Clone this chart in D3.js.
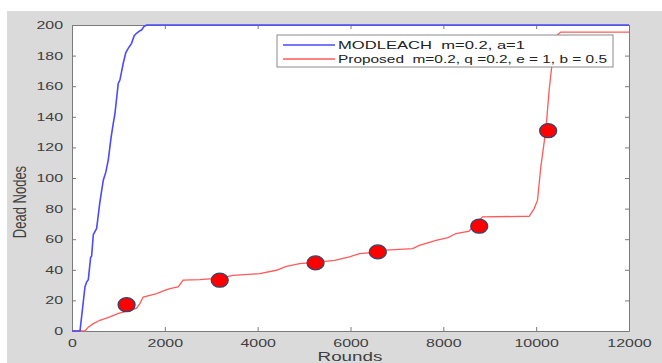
<!DOCTYPE html>
<html>
<head>
<meta charset="utf-8">
<script src="https://cdn.jsdelivr.net/npm/d3@7"></script>
<style>
  html, body { margin: 0; padding: 0; background: #fff; }
  text { font-family: "Liberation Sans", Arial, sans-serif; }
</style>
</head>
<body>
<svg id="chart"></svg>
<script>
// data
var xTicks = [0, 2000, 4000, 6000, 8000, 10000, 12000];
var yTicks = [0, 20, 40, 60, 80, 100, 120, 140, 160, 180, 200];

var modleachX = [0, 172, 280, 315, 351, 401, 423, 459, 530, 600, 674, 730, 781, 840, 889, 925, 996, 1032, 1104, 1160, 1211, 1283, 1340, 1391, 1450, 1498, 1550, 1606, 12000];
var modleachY = [0, 0, 29, 32, 33.5, 48, 49, 63, 67, 84, 98.6, 104, 111.7, 126, 135.7, 142, 161.8, 164, 175, 182, 184.7, 188, 193, 194.6, 196, 196.7, 199, 200, 200];

var proposedX = [0, 280, 350, 459, 600, 817, 1000, 1247, 1391, 1462, 1534, 1700, 1821, 2000, 2108, 2287, 2394, 2753, 3183, 3470, 4043, 4402, 4617, 4903, 5247, 5656, 5978, 6194, 6588, 6767, 7339, 7484, 7842, 8100, 8273, 8559, 8650, 8846, 9849, 9957, 10029, 10100, 10208, 10280, 10351, 10459, 10530, 12000];
var proposedY = [0, 0, 2.5, 4.8, 7, 9.2, 11.5, 13.5, 14.9, 17.9, 22.2, 23.5, 24.5, 26.5, 27.7, 28.8, 33.2, 33.6, 34.5, 36.4, 37.5, 39.7, 42.3, 44, 44.8, 46.2, 48.4, 50.6, 51.5, 52.8, 53.9, 56, 59.3, 61, 63.7, 65.2, 69, 74.6, 75, 80, 85.5, 107.3, 131.3, 157.5, 177, 193.5, 195.4, 195.4];

var markerX = [1176, 3183, 5247, 6588, 8774, 10258];
var markerY = [17.2, 33.2, 44.5, 51.7, 68.5, 130.9];

var legendLabels = ["MODLEACH  m=0.2, a=1", "Proposed  m=0.2, q =0.2, e = 1, b = 0.5"];

const width = 662;
const height = 363;
const marginLeft = 72;
const marginRight = 33;
const marginTop = 25;
const marginBottom = 32;
const stretch = 1.45;  // the source image is squashed sideways

const x = d3.scaleLinear([0, 12000], [marginLeft, width - marginRight]);
const y = d3.scaleLinear([0, 200], [height - marginBottom, marginTop]);

var svg = d3.select("#chart")
    .attr("width", width)
    .attr("height", height)
    .attr("viewBox", [0, 0, width, height]);

// figure background
svg.append("rect")
    .attr("x", 7).attr("y", 11)
    .attr("width", width - 7).attr("height", height - 11)
    .attr("fill", "#dadada");

// plot area
svg.append("rect")
    .attr("x", x(0)).attr("y", y(200))
    .attr("width", x(12000) - x(0)).attr("height", y(0) - y(200))
    .attr("fill", "#fff");

function styleAxis(g) {
    g.select(".domain").attr("stroke", "#7a7a7a");
    g.selectAll(".tick line").attr("stroke", "#7a7a7a");
    g.selectAll(".tick text").attr("fill", "#3f3f3f").attr("font-size", 11);
}

// bottom axis
svg.append("g")
    .attr("transform", "translate(0," + y(0) + ")")
    .call(d3.axisBottom(x).tickValues(xTicks).tickSize(-4).tickSizeOuter(0).tickPadding(8).tickFormat(d3.format("d")))
    .call(styleAxis)
    .call(function(g) { g.selectAll(".tick text").attr("transform", "scale(" + stretch + ",1)"); });

// top axis
svg.append("g")
    .attr("transform", "translate(0," + y(200) + ")")
    .call(d3.axisTop(x).tickValues(xTicks).tickSize(-4).tickSizeOuter(0).tickFormat(""))
    .call(styleAxis);

// left axis
svg.append("g")
    .attr("transform", "translate(" + x(0) + ",0)")
    .call(d3.axisLeft(y).tickValues(yTicks).tickSize(-4).tickSizeOuter(0).tickPadding(9))
    .call(styleAxis)
    .call(function(g) {
        g.selectAll(".tick text")
            .attr("x", -9 / stretch)
            .attr("transform", "scale(" + stretch + ",1)");
    });

// right axis
svg.append("g")
    .attr("transform", "translate(" + x(12000) + ",0)")
    .call(d3.axisRight(y).tickValues(yTicks).tickSize(-4).tickSizeOuter(0).tickFormat(""))
    .call(styleAxis);

// axis titles
svg.append("text")
    .attr("transform", "translate(26," + (y(100) + 24) + ") scale(" + stretch + ",1) rotate(-90)")
    .attr("text-anchor", "middle")
    .attr("font-size", 13)
    .attr("fill", "#3f3f3f")
    .text("Dead Nodes");

svg.append("text")
    .attr("transform", "translate(350,361) scale(" + stretch + ",1)")
    .attr("text-anchor", "middle")
    .attr("font-size", 13)
    .attr("fill", "#3f3f3f")
    .text("Rounds");

var line = d3.line()
    .x(function(d) { return x(d[0]); })
    .y(function(d) { return y(d[1]); });

var proposed = d3.zip(proposedX, proposedY);
var modleach = d3.zip(modleachX, modleachY);

svg.append("path")
    .datum(proposed)
    .attr("fill", "none")
    .attr("stroke", "#ff5a5a")
    .attr("stroke-width", 1.3)
    .attr("d", line);

svg.append("path")
    .datum(modleach)
    .attr("fill", "none")
    .attr("stroke", "#4a4aff")
    .attr("stroke-width", 1.6)
    .attr("d", line);

// markers
svg.selectAll(".marker")
    .data(d3.zip(markerX, markerY))
    .join("ellipse")
    .attr("class", "marker")
    .attr("cx", function(d) { return x(d[0]); })
    .attr("cy", function(d) { return y(d[1]); })
    .attr("rx", 8.5)
    .attr("ry", 7)
    .attr("fill", "#ff0000")
    .attr("stroke", "#34466b")
    .attr("stroke-width", 1.3);

// legend
var legend = svg.append("g");
legend.append("rect")
    .attr("x", 277).attr("y", 35)
    .attr("width", 336).attr("height", 32)
    .attr("fill", "#fff")
    .attr("stroke", "#8a8a8a")
    .attr("stroke-width", 1);

var legendColors = ["#4a4aff", "#ff5a5a"];
var legendWidths = [187, 269];
legendLabels.forEach(function(label, i) {
    var ly = 45 + i * 14;
    legend.append("line")
        .attr("x1", 283).attr("x2", 335)
        .attr("y1", ly).attr("y2", ly)
        .attr("stroke", legendColors[i])
        .attr("stroke-width", 1.4);
    legend.append("text")
        .attr("x", 338).attr("y", ly + 4)
        .attr("font-size", 11)
        .attr("fill", "#222")
        .attr("textLength", legendWidths[i])
        .attr("lengthAdjust", "spacingAndGlyphs")
        .style("white-space", "pre")
        .text(label);
});
</script>
</body>
</html>
